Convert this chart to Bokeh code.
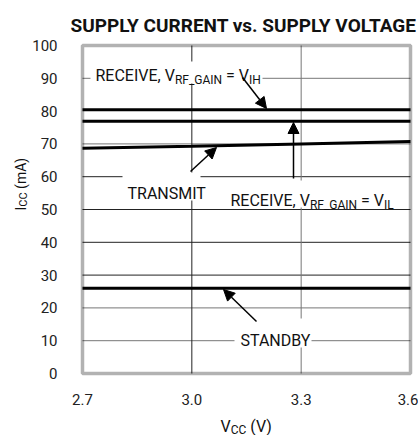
import math
from bokeh.plotting import figure
from bokeh.models import (Label, Arrow, NormalHead, FixedTicker, LinearAxis,
                          PrintfTickFormatter, BoxAnnotation, Range1d)
from bokeh.embed import file_html
from bokeh.resources import INLINE

# ---------------- data ----------------
vcc = [2.7, 3.0, 3.3, 3.6]
icc_rx_vih = [80.4, 80.4, 80.4, 80.4]
icc_rx_vil = [76.9, 76.9, 76.9, 76.9]
icc_tx = [68.7, 69.3, 70.0, 70.7]
icc_standby = [26.0, 26.0, 26.0, 26.0]
x_ticks = [2.7, 3.0, 3.3, 3.6]
y_ticks = [0, 10, 20, 30, 40, 50, 60, 70, 80, 90, 100]
dark_y = [30, 40, 50, 60]
light_y = [10, 20, 70, 90]
dark_x = [3.0]
light_x = [3.3]

FONT = "Roboto"

# plot box in page pixels (page == canvas, no body margin)
FL, FR, FT, FB = 82, 410, 45, 373
W_PAGE, H_PAGE = 418, 435
XMIN, XMAX, YMIN, YMAX = 2.7, 3.6, 0, 100
SX = (XMAX - XMIN) / (FR - FL)
SY = (YMAX - YMIN) / (FB - FT)


def dx(px):
    return XMIN + (px - FL) * SX


def dy(py):
    return YMIN + (FB - py) * SY


# approximate Roboto advance widths (em) used to chain subscript pieces
ADV = {' ': 0.248, '\u00a0': 0.248, ',': 0.197, '.': 0.263, '=': 0.549,
       '_': 0.452, '(': 0.342, ')': 0.348, 'A': 0.652, 'B': 0.623,
       'C': 0.652, 'D': 0.657, 'E': 0.568, 'F': 0.553, 'G': 0.682,
       'H': 0.713, 'I': 0.272, 'L': 0.538, 'M': 0.873, 'N': 0.713,
       'R': 0.616, 'S': 0.593, 'T': 0.597, 'V': 0.636, 'Y': 0.601,
       'm': 0.876}


def tw(s, size):
    return sum(ADV.get(c, 0.56) for c in s) * size


# the frame covers the whole canvas; the data box is drawn inside it
p = figure(width=W_PAGE, height=H_PAGE,
           x_range=Range1d(dx(0), dx(W_PAGE)),
           y_range=Range1d(dy(H_PAGE), dy(0)),
           output_backend="svg", toolbar_location=None, title=None,
           x_axis_location=None, y_axis_location=None,
           min_border=0)
p.background_fill_color = "white"
p.border_fill_color = "white"
p.outline_line_color = None
for g in p.grid:
    g.visible = False

# axes fixed at the data box edges
xax = LinearAxis(fixed_location=YMIN, ticker=FixedTicker(ticks=x_ticks),
                 formatter=PrintfTickFormatter(format="%.1f"))
yax = LinearAxis(fixed_location=XMIN, ticker=FixedTicker(ticks=y_ticks))
for ax in (xax, yax):
    ax.axis_line_color = None
    ax.major_tick_line_color = None
    ax.minor_tick_line_color = None
    ax.major_label_text_font = FONT
    ax.major_label_text_font_size = "15px"
    ax.major_label_text_color = "#222222"
xax.major_label_standoff = 14
yax.major_label_standoff = 19
p.add_layout(xax, "below")
p.add_layout(yax, "left")

# grid lines inside the data box
p.segment(x0=XMIN, x1=XMAX, y0=dark_y, y1=dark_y, line_color="#222222",
          line_width=1)
p.segment(x0=XMIN, x1=XMAX, y0=light_y, y1=light_y, line_color="#777777",
          line_width=1)
p.segment(x0=dark_x, x1=dark_x, y0=YMIN, y1=YMAX, line_color="#222222",
          line_width=1)
p.segment(x0=light_x, x1=light_x, y0=YMIN, y1=YMAX, line_color="#777777",
          line_width=1)

# white gaps behind annotation texts
gaps = [(90, 262, 61, 83), (225, 398, 180, 207), (122, 200, 172, 200),
        (234, 311, 318, 347)]
p.quad(left=[dx(g[0]) for g in gaps], right=[dx(g[1]) for g in gaps],
       top=[dy(g[2]) for g in gaps], bottom=[dy(g[3]) for g in gaps],
       fill_color="white", line_color=None)

# curves
for ys in (icc_rx_vih, icc_rx_vil, icc_tx, icc_standby):
    p.line(vcc, ys, line_color="black", line_width=3)

# data box outline
p.add_layout(BoxAnnotation(left=XMIN, right=XMAX, bottom=YMIN, top=YMAX,
                           fill_color=None, line_color="black",
                           line_width=3.5))


def txt(s, px, py, size=16, angle=0.0, bold=False, align="left"):
    p.add_layout(Label(x=dx(px), y=dy(py), text=s, text_font=FONT,
                       text_font_size=f"{size}px", text_align=align,
                       text_baseline="alphabetic", text_color="#111111",
                       text_font_style="bold" if bold else "normal",
                       angle=angle))


def subtext(pieces, px, py, size=16, sub=12, drop=4):
    x = px
    for s, is_sub in pieces:
        sz = sub if is_sub else size
        txt(s, x, py + (drop if is_sub else 0), size=sz)
        x += tw(s, sz)


def vsubtext(pieces, px, py, size=14, sub=11, drop=3):
    y = py
    for s, is_sub in pieces:
        sz = sub if is_sub else size
        txt(s, px + (drop if is_sub else 0), y, size=sz, angle=math.pi / 2)
        y -= tw(s, sz)


NB = "\u00a0"
txt("SUPPLY CURRENT vs. SUPPLY VOLTAGE", 243, 25, size=19, bold=True,
    align="center")
subtext([("RECEIVE, V", False), ("RF_GAIN", True), (NB + "= V", False),
         ("IH", True)], 95, 75)
subtext([("RECEIVE, V", False), ("RF_GAIN", True), (NB + "= V", False),
         ("IL", True)], 230, 200)
txt("TRANSMIT", 127, 193)
txt("STANDBY", 240, 340)

# axis titles
subtext([("V", False), ("CC", True), (NB + "(V)", False)], 220, 426,
        size=16, sub=12, drop=3)
vsubtext([("I", False), ("CC", True), (NB + "(mA)", False)], 20, 210)

# arrows
arrows = [((242, 77), (266, 108)),
          ((293, 178), (293, 122)),
          ((190, 171), (216, 147)),
          ((256, 321), (223, 289))]
for (s, e) in arrows:
    p.add_layout(Arrow(x_start=dx(s[0]), y_start=dy(s[1]),
                       x_end=dx(e[0]), y_end=dy(e[1]), line_width=1.5,
                       line_color="black",
                       end=NormalHead(size=11, fill_color="black",
                                      line_color="black")))

open("out.html", "w").write(file_html(p, INLINE))
